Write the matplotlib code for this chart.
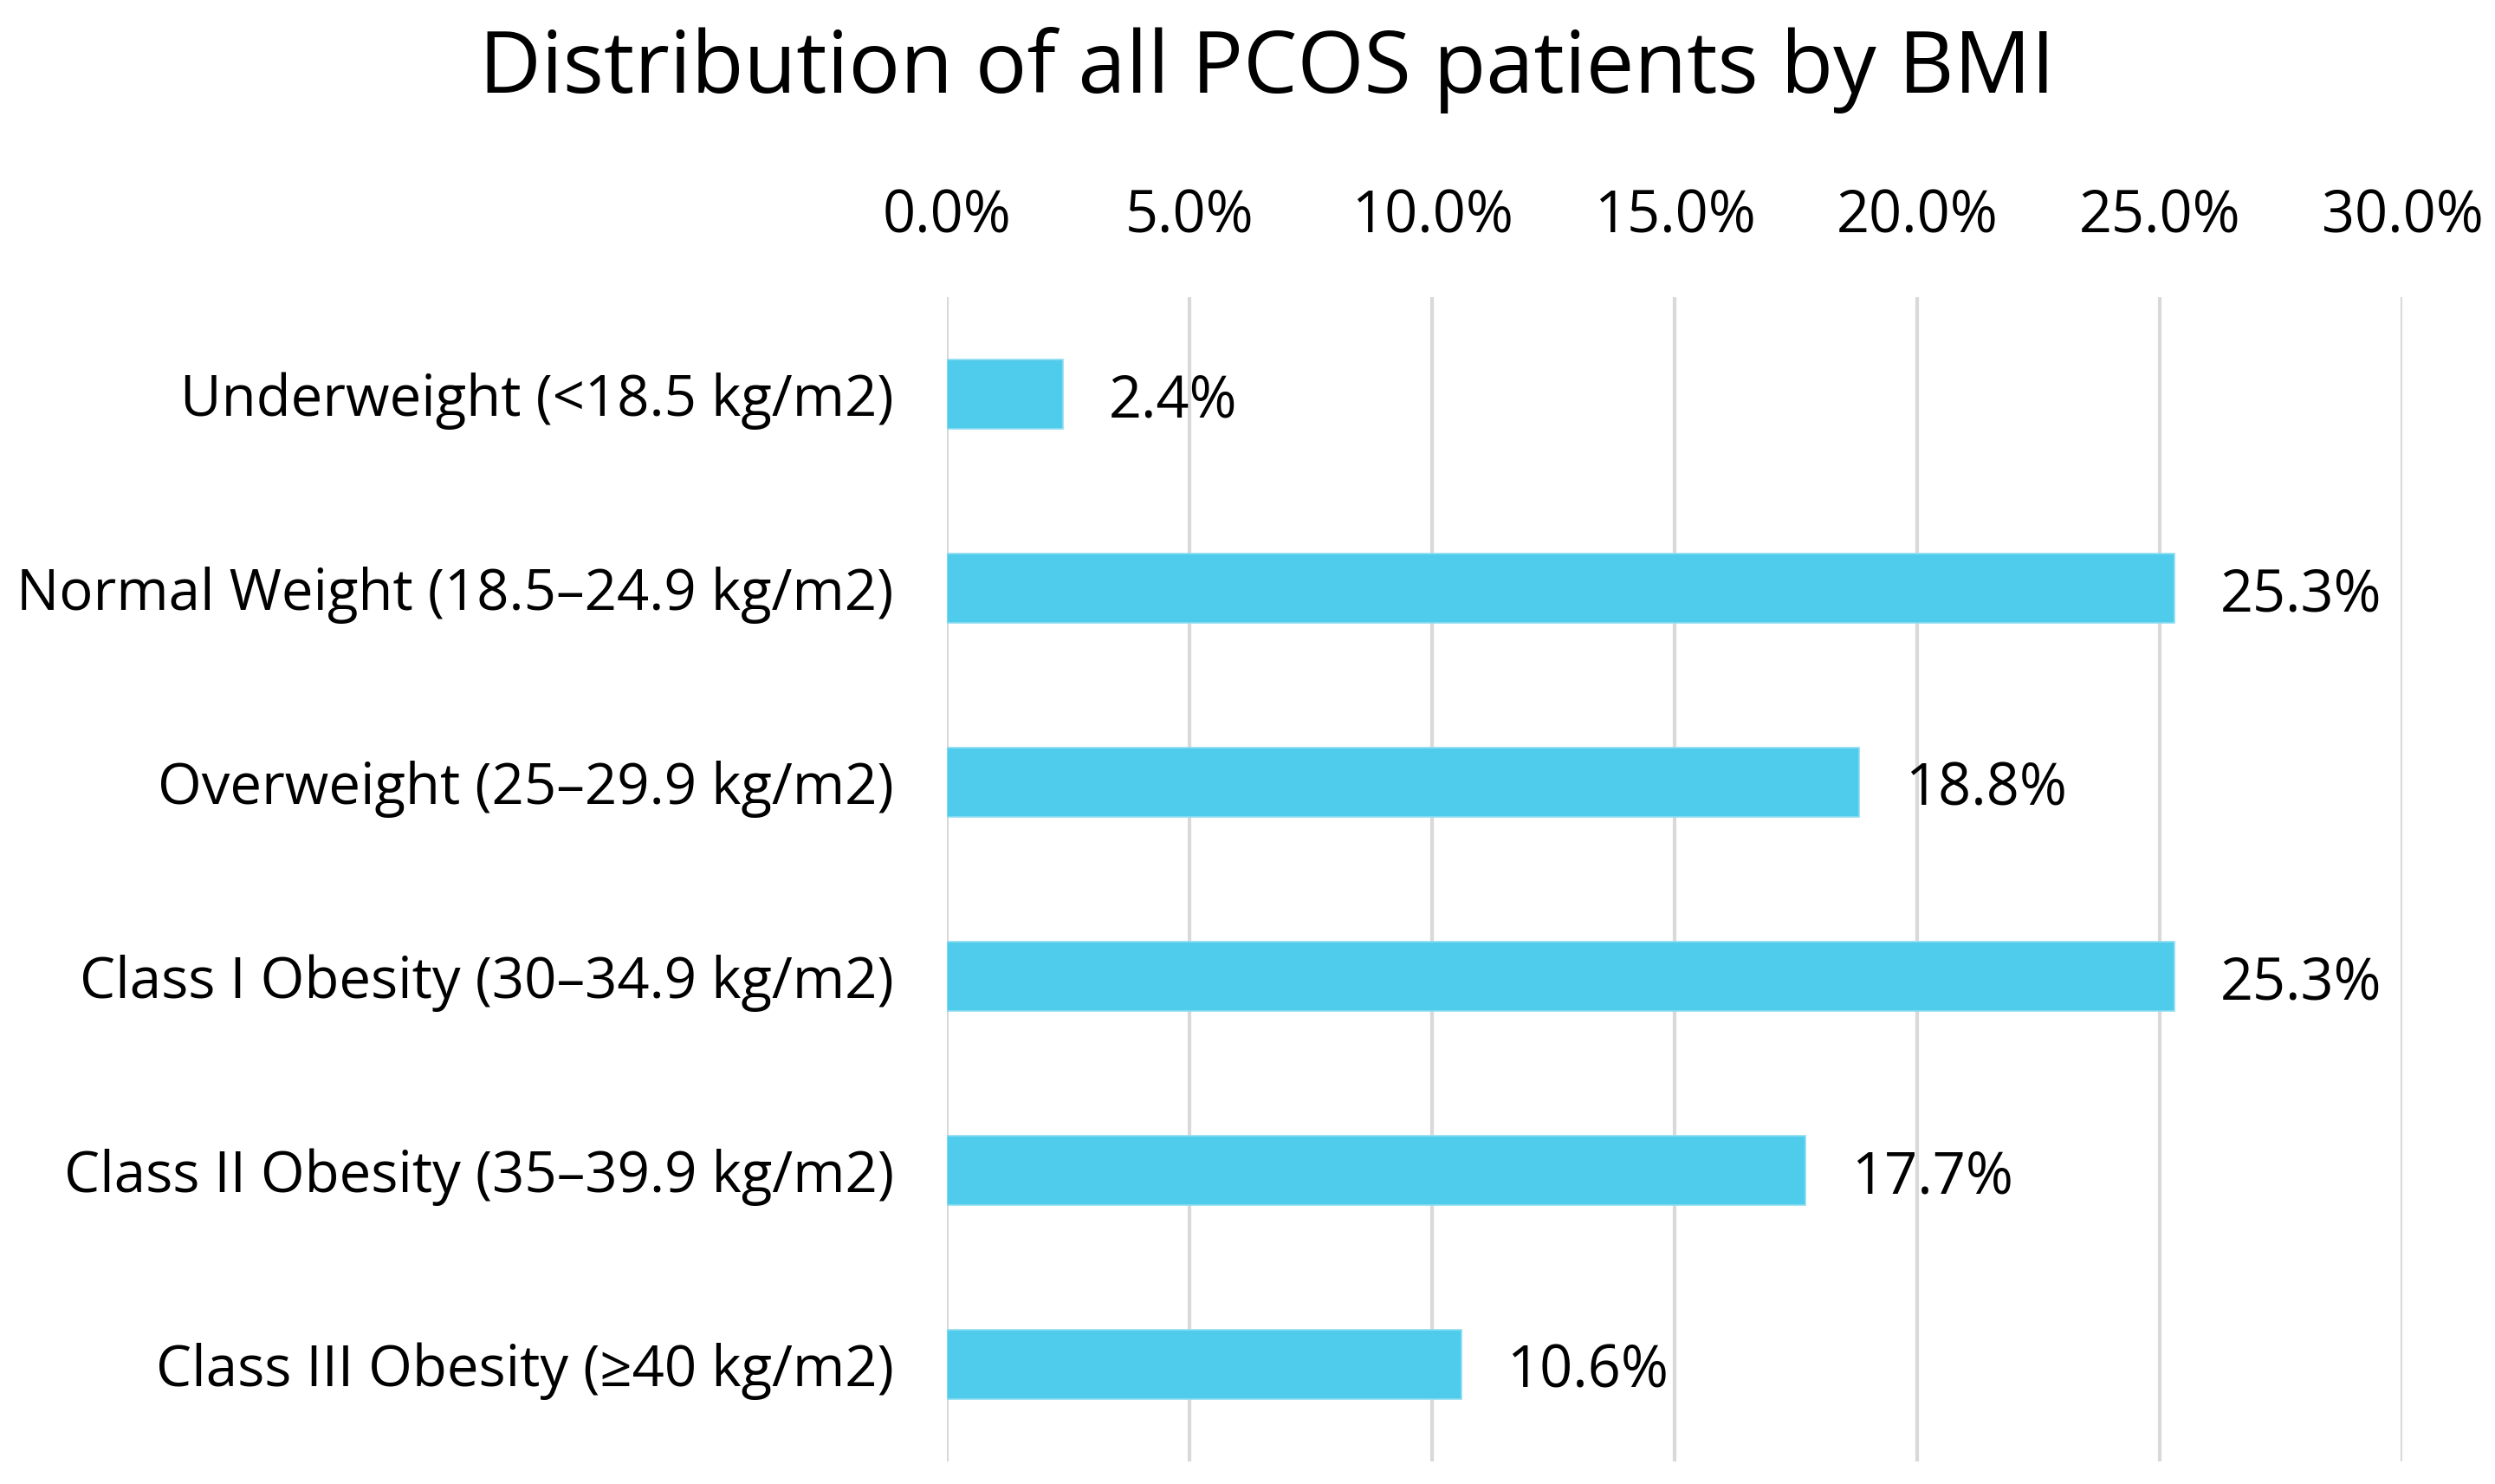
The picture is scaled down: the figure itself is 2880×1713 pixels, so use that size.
import matplotlib
matplotlib.use("Agg")
from matplotlib import pyplot as plt
from matplotlib.ticker import FuncFormatter
import numpy as np

categories = [
    "Underweight (<18.5 kg/m2)",
    "Normal Weight (18.5\u201324.9 kg/m2)",
    "Overweight (25\u201329.9 kg/m2)",
    "Class I Obesity (30\u201334.9 kg/m2)",
    "Class II Obesity (35\u201339.9 kg/m2)",
    "Class III Obesity (\u226540 kg/m2)",
]
percentages = [2.4, 25.3, 18.8, 25.3, 17.7, 10.6]
xticks = [0, 5, 10, 15, 20, 25, 30]

plt.rcParams['font.family'] = ['Open Sans', 'DejaVu Sans']

fig = plt.figure(figsize=(14.4, 8.565), dpi=200)
ax = fig.add_axes([0.3795, 0.0152, 0.963 - 0.3795, 0.7998 - 0.0152])

y = np.arange(len(categories))
ax.barh(y, percentages, height=0.355, color="#4FCBEB", edgecolor="#8EDDF2", linewidth=0.6, zorder=3)

for yi, v in zip(y, percentages):
    ax.annotate("%.1f%%" % v, (v, yi), xytext=(19, -3), textcoords="offset points",
                va="center", ha="left", fontsize=24, color="#000000")

ax.set_xlim(0, 30)
ax.set_ylim(len(categories) - 0.5, -0.5)
ax.set_xticks(xticks)
ax.xaxis.set_major_formatter(FuncFormatter(lambda v, p: "%.1f%%" % v))
ax.xaxis.tick_top()
ax.set_yticks(y)
ax.set_yticklabels(categories)
ax.tick_params(axis="x", length=0, labelsize=24, pad=21)
ax.tick_params(axis="y", length=0, labelsize=23.5, pad=22)
ax.grid(axis="x", color="#D9D9D9", linewidth=1.5, zorder=0)
for s in ax.spines.values():
    s.set_visible(False)

fig.text(0.508, 0.953, "Distribution of all PCOS patients by BMI", ha="center", va="center", fontsize=35.7)

plt.savefig("out.png", dpi=200)
